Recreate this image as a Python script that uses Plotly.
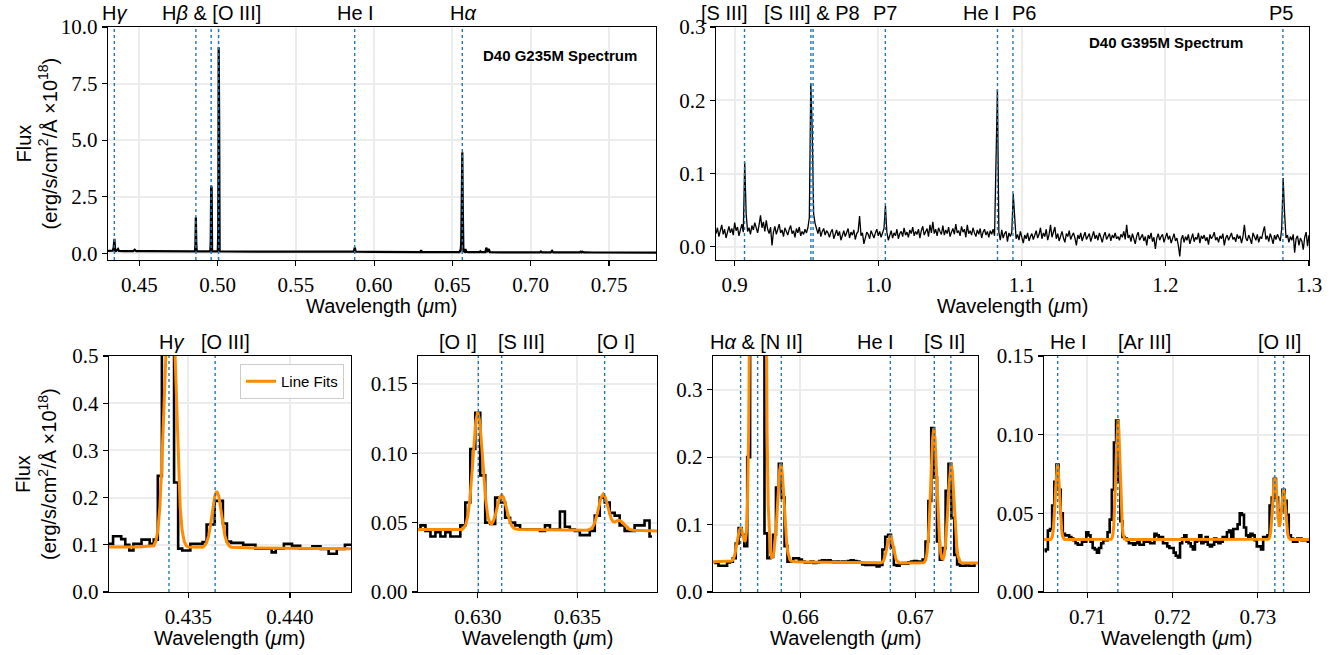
import numpy as np
import plotly.graph_objects as go

W, H = 1338, 655
OFF = 0

# ---------------- data ----------------
# G235M overview spectrum (top left), wavelength in micron, flux x1e18
g235_wl = [0.4300, 0.4320, 0.4330, 0.4336, 0.4341, 0.4346, 0.4352, 0.4364, 0.4370, 0.4400,
           0.4430, 0.4460, 0.4471, 0.4480, 0.4550, 0.4650, 0.4750, 0.4830, 0.4855, 0.4858,
           0.4861, 0.4864, 0.4867, 0.4900, 0.4953, 0.4956, 0.4959, 0.4962, 0.4965, 0.5001,
           0.5004, 0.5007, 0.5010, 0.5013, 0.5016, 0.5050, 0.5200, 0.5400, 0.5600, 0.5800,
           0.5870, 0.5876, 0.5882, 0.6000, 0.6200, 0.6295, 0.6300, 0.6305, 0.6400, 0.6500,
           0.6545, 0.6548, 0.6552, 0.6556, 0.6559, 0.6563, 0.6566, 0.6570, 0.6578, 0.6583,
           0.6588, 0.6600, 0.6650, 0.6672, 0.6678, 0.6684, 0.6700, 0.6710, 0.6716, 0.6724,
           0.6731, 0.6740, 0.6800, 0.6900, 0.7000, 0.7058, 0.7065, 0.7072, 0.7128, 0.7136,
           0.7144, 0.7200, 0.7312, 0.7320, 0.7325, 0.7330, 0.7340, 0.7400, 0.7500, 0.7600,
           0.7700, 0.7800]
g235_flux = [0.105, 0.100, 0.110, 0.250, 0.640, 0.090, 0.100, 0.190, 0.100, 0.095,
             0.090, 0.090, 0.150, 0.090, 0.088, 0.085, 0.082, 0.080, 0.080, 0.300,
             1.590, 0.400, 0.080, 0.078, 0.078, 0.500, 2.980, 2.900, 0.078, 0.080,
             0.900, 9.100, 5.950, 0.100, 0.077, 0.076, 0.074, 0.070, 0.068, 0.066,
             0.066, 0.250, 0.066, 0.060, 0.055, 0.050, 0.130, 0.050, 0.048, 0.046,
             0.046, 0.095, 0.075, 0.500, 2.750, 4.460, 1.950, 0.090, 0.060, 0.190,
             0.060, 0.045, 0.044, 0.044, 0.085, 0.044, 0.044, 0.044, 0.245, 0.050,
             0.190, 0.043, 0.040, 0.038, 0.035, 0.034, 0.080, 0.034, 0.034, 0.109,
             0.034, 0.033, 0.033, 0.072, 0.042, 0.065, 0.033, 0.032, 0.030, 0.030,
             0.028, 0.028]

# G395M spectrum (top right), regular sampling of 0.001 micron from 0.887
g395_start, g395_step = 0.887, 0.001
g395_flux = [
    0.018, 0.026, 0.014, 0.022, 0.030, 0.017, 0.024, 0.012, 0.021, 0.028,
    0.019, 0.025, 0.016, 0.033, 0.022, 0.027, 0.015, 0.024, 0.031, 0.020,
    0.115, 0.045, 0.021, 0.026, 0.017, 0.029, 0.023, 0.033, 0.025, 0.019,
    0.030, 0.043, 0.026, 0.034, 0.021, 0.036, 0.024, 0.018, 0.027, 0.002,
    0.020, 0.028, 0.017, 0.025, 0.031, 0.019, 0.023, 0.014, 0.026, 0.021,
    0.016, 0.024, 0.029, 0.018, 0.022, 0.013, 0.025, 0.019, 0.027, 0.015,
    0.021, 0.017, 0.024, 0.019, 0.026, 0.040, 0.223, 0.160, 0.045, 0.032,
    0.024, 0.018, 0.027, 0.014, 0.021, 0.025, 0.016, 0.022, 0.019, 0.013,
    0.020, 0.024, 0.011, 0.018, 0.023, 0.015, 0.021, 0.009, 0.017, 0.022,
    0.014, 0.019, 0.025, 0.012, 0.020, 0.016, 0.023, 0.010, 0.018, 0.021,
    0.042, 0.015, 0.019, 0.004, 0.013, 0.020, 0.017, 0.011, 0.022, 0.016,
    0.012, 0.019, 0.024, 0.015, 0.021, 0.013, 0.018, 0.025, 0.056, 0.020,
    0.009, 0.017, 0.022, 0.012, 0.019, 0.015, 0.024, 0.011, 0.018, 0.021,
    0.014, 0.026, 0.016, 0.020, 0.013, 0.023, 0.018, 0.027, 0.015, 0.021,
    0.017, 0.024, 0.012, 0.022, 0.028, 0.016, 0.020, 0.025, 0.014, 0.030,
    0.019, 0.034, 0.018, 0.024, 0.015, 0.026, 0.021, 0.017, 0.029, 0.016,
    0.023, 0.018, 0.027, 0.014, 0.020, 0.025, 0.017, 0.031, 0.019, 0.022,
    0.015, 0.028, 0.020, 0.024, 0.013, 0.030, 0.018, 0.022, 0.016, 0.026,
    0.019, 0.014, 0.023, 0.017, 0.025, 0.012, 0.020, 0.024, 0.016, 0.021,
    0.013, 0.022, 0.017, 0.024, 0.015, 0.095, 0.215, 0.020, 0.009, 0.023,
    0.012, 0.018, 0.021, 0.007, 0.019, 0.014, 0.020, 0.072, 0.038, 0.011,
    0.017, 0.009, 0.021, 0.013, 0.005, 0.016, 0.011, 0.019, 0.008, 0.014,
    0.018, 0.010, 0.015, 0.022, 0.012, 0.017, 0.026, 0.011, 0.019, 0.014,
    0.024, 0.009, 0.017, 0.030, 0.013, 0.020, 0.027, 0.011, 0.018, 0.008,
    0.016, 0.021, 0.012, 0.006, 0.018, 0.014, 0.022, 0.010, 0.015, 0.019,
    0.012, 0.002, 0.016, 0.011, 0.019, 0.008, 0.014, 0.020, 0.010, 0.015,
    0.018, 0.007, 0.013, 0.021, 0.011, 0.016, 0.009, 0.019, 0.013, 0.006,
    0.015, 0.020, 0.010, 0.014, 0.018, 0.008, 0.016, 0.012, 0.019, 0.011,
    0.014, 0.009, 0.017, 0.013, 0.021, 0.010, 0.030, 0.012, 0.016, 0.007,
    0.018, 0.011, 0.004, 0.015, 0.020, 0.009, 0.013, 0.017, 0.008, 0.014,
    0.002, 0.016, 0.011, 0.019, 0.007, 0.013, -0.003, 0.012, 0.018, 0.009,
    0.014, 0.017, 0.006, 0.012, 0.019, 0.010, 0.015, 0.005, 0.013, 0.018,
    0.008, 0.012, 0.002, -0.013, 0.010, 0.016, 0.006, 0.014, 0.009, 0.017,
    0.004, 0.012, 0.018, 0.007, 0.013, 0.010, 0.019, 0.005, 0.015, 0.011,
    0.016, 0.008, 0.013, 0.003, 0.017, 0.011, 0.014, 0.020, 0.009, 0.013,
    0.006, 0.015, 0.011, 0.018, 0.002, 0.012, 0.016, 0.009, 0.014, 0.019,
    0.010, 0.013, 0.007, 0.017, 0.011, 0.015, 0.005, 0.014, 0.030, 0.012,
    0.008, 0.016, 0.011, 0.004, 0.019, 0.013, 0.009, 0.017, 0.006, 0.014,
    0.011, 0.020, 0.028, 0.010, 0.015, 0.007, 0.018, 0.012, 0.004, 0.016,
    0.010, 0.017, 0.013, 0.008, 0.025, 0.094, 0.045, 0.012, 0.016, 0.006,
    0.014, 0.009, 0.017, -0.008, 0.011, 0.015, 0.002, 0.012, 0.008, -0.004,
    0.013, 0.020, 0.001, 0.016]

# zoom panels (G235M), regular sampling
p1_start, p1_step = 0.4310, 0.0002
p1_flux = [0.102, 0.102, 0.118, 0.118, 0.112, 0.100, 0.088, 0.102, 0.102, 0.111,
           0.111, 0.102, 0.111, 0.246, 0.520, 0.640, 0.560, 0.232, 0.092, 0.088,
           0.088, 0.102, 0.102, 0.102, 0.106, 0.143, 0.143, 0.193, 0.193, 0.145,
           0.107, 0.104, 0.104, 0.104, 0.100, 0.100, 0.100, 0.092, 0.092, 0.092,
           0.092, 0.084, 0.092, 0.092, 0.102, 0.102, 0.098, 0.098, 0.092, 0.092,
           0.092, 0.097, 0.097, 0.091, 0.091, 0.081, 0.081, 0.091, 0.091, 0.100,
           0.100]
p2_start, p2_step = 0.6270, 0.00025
p2_flux = [0.045, 0.048, 0.044, 0.040, 0.043, 0.040, 0.043, 0.040, 0.040, 0.048,
           0.0645, 0.103, 0.129, 0.084, 0.050, 0.049, 0.068, 0.0645, 0.0535, 0.050,
           0.048, 0.045, 0.045, 0.045, 0.045, 0.044, 0.048, 0.045, 0.045, 0.058,
           0.047, 0.045, 0.044, 0.041, 0.041, 0.044, 0.055, 0.068, 0.0645, 0.057,
           0.055, 0.048, 0.044, 0.044, 0.048, 0.048, 0.0515, 0.040]
p3_start, p3_step = 0.6525, 0.00025
p3_flux = [0.043, 0.043, 0.039, 0.039, 0.039, 0.044, 0.045, 0.050, 0.072, 0.095,
           0.085, 0.068, 0.200, 0.620, 2.500, 4.300, 3.600, 1.600, 0.087, 0.050,
           0.052, 0.085, 0.155, 0.190, 0.140, 0.068, 0.045, 0.045, 0.050, 0.050,
           0.048, 0.045, 0.044, 0.044, 0.045, 0.043, 0.044, 0.046, 0.047, 0.046,
           0.047, 0.045, 0.044, 0.045, 0.044, 0.045, 0.044, 0.046, 0.047, 0.046,
           0.045, 0.044, 0.041, 0.040, 0.041, 0.040, 0.041, 0.038, 0.040, 0.063,
           0.082, 0.085, 0.066, 0.040, 0.039, 0.042, 0.043, 0.042, 0.044, 0.045,
           0.046, 0.045, 0.044, 0.048, 0.075, 0.135, 0.243, 0.170, 0.075, 0.048,
           0.065, 0.150, 0.190, 0.110, 0.055, 0.041, 0.039, 0.039, 0.040, 0.039,
           0.039, 0.040]
p4_start, p4_step = 0.7050, 0.00025
p4_flux = [0.026, 0.027, 0.039, 0.040, 0.055, 0.070, 0.081, 0.065, 0.050, 0.037,
           0.036, 0.036, 0.035, 0.034, 0.033, 0.031, 0.030, 0.030, 0.032, 0.032,
           0.038, 0.036, 0.032, 0.028, 0.027, 0.025, 0.028, 0.031, 0.033, 0.033,
           0.038, 0.046, 0.065, 0.095, 0.109, 0.070, 0.045, 0.035, 0.034, 0.033,
           0.031, 0.031, 0.030, 0.031, 0.033, 0.030, 0.030, 0.032, 0.032, 0.032,
           0.031, 0.031, 0.037, 0.036, 0.035, 0.035, 0.031, 0.031, 0.029, 0.028,
           0.028, 0.025, 0.023, 0.022, 0.031, 0.034, 0.036, 0.032, 0.031, 0.029,
           0.027, 0.032, 0.033, 0.036, 0.031, 0.032, 0.035, 0.030, 0.029, 0.030,
           0.034, 0.032, 0.031, 0.032, 0.035, 0.035, 0.038, 0.039, 0.035, 0.040,
           0.040, 0.043, 0.050, 0.049, 0.041, 0.036, 0.035, 0.037, 0.036, 0.033,
           0.029, 0.029, 0.027, 0.035, 0.035, 0.036, 0.055, 0.060, 0.072, 0.060,
           0.047, 0.052, 0.065, 0.058, 0.049, 0.036, 0.034, 0.032, 0.032, 0.034,
           0.034, 0.033, 0.033, 0.033, 0.032]

# line-fit model curves
p1_fit_wl = [0.4310, 0.4325, 0.4333, 0.4334, 0.4335, 0.4336, 0.4337, 0.4338, 0.4339, 0.4340,
             0.4341, 0.4342, 0.4343, 0.4344, 0.4345, 0.4346, 0.4347, 0.4348, 0.4349, 0.4350,
             0.4357, 0.4358, 0.4359, 0.4360, 0.4361, 0.4362, 0.4363, 0.4364, 0.4365, 0.4366,
             0.4367, 0.4368, 0.4369, 0.4370, 0.4371, 0.4380, 0.4430]
p1_fit = [0.0955, 0.0953, 0.098, 0.107, 0.129, 0.179, 0.271, 0.406, 0.563, 0.694,
          0.745, 0.694, 0.563, 0.406, 0.271, 0.179, 0.129, 0.107, 0.098, 0.0952,
          0.0950, 0.098, 0.105, 0.119, 0.144, 0.175, 0.203, 0.214, 0.203, 0.175,
          0.144, 0.119, 0.105, 0.098, 0.095, 0.0935, 0.0915]
p2_fit_wl = [0.6270, 0.6292, 0.6293, 0.6294, 0.6295, 0.6296, 0.6297, 0.6298, 0.6299, 0.6300,
             0.6301, 0.6302, 0.6303, 0.6304, 0.6305, 0.6306, 0.6307, 0.6308, 0.6309, 0.6310,
             0.6311, 0.6312, 0.6313, 0.6314, 0.6315, 0.6316, 0.6317, 0.6318, 0.6319, 0.6321,
             0.6355, 0.6356, 0.6357, 0.6358, 0.6359, 0.6360, 0.6361, 0.6362, 0.6363, 0.6364,
             0.6365, 0.6366, 0.6367, 0.6368, 0.6369, 0.6370, 0.6371, 0.6372, 0.6373, 0.6374,
             0.6375, 0.6376, 0.6377, 0.6378, 0.6390]
p2_fit = [0.0450, 0.0450, 0.0462, 0.0487, 0.0547, 0.0663, 0.0839, 0.1051, 0.1229, 0.1300,
          0.1229, 0.1051, 0.0839, 0.0663, 0.0551, 0.0498, 0.0491, 0.0516, 0.0565, 0.0627,
          0.0679, 0.0700, 0.0679, 0.0627, 0.0565, 0.0513, 0.0479, 0.0461, 0.0454, 0.0450,
          0.0445, 0.0449, 0.0456, 0.0475, 0.0510, 0.0564, 0.0629, 0.0683, 0.0705, 0.0683,
          0.0632, 0.0572, 0.0528, 0.0507, 0.0505, 0.0513, 0.0516, 0.0509, 0.0494, 0.0477,
          0.0463, 0.0453, 0.0448, 0.0445, 0.0440]
# panels 3 and 4: continuum anchor points + finely sampled (0.0001 um) line segments
fit_step = 0.0001
p3_fit_anchor_wl = [0.6524, 0.6537, 0.6595, 0.6620, 0.6660, 0.6669, 0.6687, 0.6705, 0.6742, 0.6755]
p3_fit_anchor = [0.045, 0.045, 0.045, 0.0440, 0.0432, 0.0431, 0.0431, 0.0430, 0.0430, 0.0430]
p3_fit_segments = [
    (0.6538, [0.0451, 0.0453, 0.0458, 0.0472, 0.0501, 0.0552, 0.0630, 0.0732, 0.0838, 0.0919,
              0.0951, 0.0922, 0.0849, 0.0771, 0.0749, 0.0886, 0.1341, 0.2402, 0.4488, 0.802,
              1.343, 2.060, 2.879, 3.666, 4.234, 4.445, 4.234, 3.666, 2.879, 2.060,
              1.343, 0.802, 0.448, 0.238, 0.1291, 0.0786, 0.0577, 0.0514, 0.0525, 0.0599,
              0.0744, 0.0972, 0.1266, 0.1574, 0.181, 0.190, 0.181, 0.1574, 0.1266, 0.0972,
              0.0744, 0.0596, 0.0514, 0.0475, 0.0458, 0.0452, 0.0450]),
    (0.6670, [0.0434, 0.0441, 0.0459, 0.0494, 0.0555, 0.0641, 0.0735, 0.0811, 0.0840, 0.0811,
              0.0735, 0.0641, 0.0555, 0.0494, 0.0459, 0.0441, 0.0434]),
    (0.6706, [0.0431, 0.0435, 0.0448, 0.0483, 0.0569, 0.0744, 0.1042, 0.1458, 0.1918, 0.2288,
              0.2430, 0.2288, 0.1918, 0.1458, 0.1042, 0.0745, 0.0573, 0.0496, 0.0487, 0.0538,
              0.0663, 0.0883, 0.1191, 0.1531, 0.1805, 0.1910, 0.1805, 0.1531, 0.1191, 0.0883,
              0.0662, 0.0533, 0.0469, 0.0443, 0.0434, 0.0431]),
]
p4_fit_anchor_wl = [0.7049, 0.7057, 0.7074, 0.7127, 0.7145, 0.7311, 0.7339, 0.7361]
p4_fit_anchor = [0.0333, 0.0334, 0.0333, 0.0334, 0.0333, 0.0334, 0.0333, 0.0333]
p4_fit_segments = [
    (0.7058, [0.0340, 0.0354, 0.0388, 0.0453, 0.0553, 0.0672, 0.0773, 0.0813, 0.0773, 0.0672,
              0.0553, 0.0453, 0.0388, 0.0354, 0.0340, 0.0335]),
    (0.7128, [0.0336, 0.0344, 0.0366, 0.0420, 0.0522, 0.0681, 0.0870, 0.1030, 0.1093, 0.1030,
              0.0870, 0.0681, 0.0522, 0.0420, 0.0366, 0.0344, 0.0336]),
    (0.7312, [0.0335, 0.0339, 0.0351, 0.0379, 0.0433, 0.0516, 0.0616, 0.0700, 0.0733, 0.0700,
              0.0617, 0.0520, 0.0447, 0.0415, 0.0431, 0.0486, 0.0561, 0.0628, 0.0653, 0.0626,
              0.0559, 0.0480, 0.0413, 0.0369, 0.0347, 0.0337, 0.0334]),
]

# emission line positions (rest-frame micron) and top labels
tl_lines = [0.43405, 0.48613, 0.49589, 0.50068, 0.58756, 0.65628]
tl_labels = ["H<i>γ</i>", "H<i>β</i> & [O III]", "He I", "H<i>α</i>"]
tl_label_wl = [0.4341, 0.4958, 0.5878, 0.6567]
tr_lines = [0.90686, 0.95311, 0.95463, 1.00494, 1.08303, 1.09381, 1.28181]
tr_labels = ["[S III]", "[S III] & P8", "P7", "He I", "P6", "P5"]
tr_label_wl = [0.8932, 0.9536, 1.0049, 1.0718, 1.1018, 1.2804]
p1_lines = [0.43405, 0.43632]
p1_labels = ["H<i>γ</i>", "[O III]"]
p1_label_wl = [0.43415, 0.43685]
p2_lines = [0.63003, 0.63120, 0.63637]
p2_labels = ["[O I]", "[S III]", "[O I]"]
p2_label_wl = [0.6290, 0.6322, 0.63695]
p3_lines = [0.65480, 0.65628, 0.65834, 0.66782, 0.67164, 0.67308]
p3_labels = ["H<i>α</i> & [N II]", "He I", "[S II]"]
p3_label_wl = [0.65618, 0.66653, 0.67257]
p4_lines = [0.70652, 0.71358, 0.73199, 0.73302]
p4_labels = ["He I", "[Ar III]", "[O II]"]
p4_label_wl = [0.70774, 0.71672, 0.73250]

# ---------------- helpers ----------------
def grid(start, step, n):
    return start + step * np.arange(n)

def build_fit(anchor_wl, anchor_val, segments):
    xs = list(anchor_wl)
    ys = list(anchor_val)
    for s0, vals in segments:
        xs += list(grid(s0, fit_step, len(vals)))
        ys += list(vals)
    order = np.argsort(xs)
    return np.array(xs)[order], np.array(ys)[order]

def fx(px):
    return (px - OFF) / W

def fy(py):
    return (H - (py - OFF)) / H

SANS = "Liberation Sans"
SERIF = "Liberation Serif"
BLACK = "black"
ORANGE = "#ff8c00"
BLUE = "#1f77b4"

fig = go.Figure()

# panel geometry in target pixels: (left, right, top, bottom)
panels = [
    dict(px=(108, 656, 27, 260), xr=[0.43, 0.78], yr=[-0.3, 10.0],
         xt=[0.45, 0.50, 0.55, 0.60, 0.65, 0.70, 0.75], yt=[0, 2.5, 5.0, 7.5, 10.0], xf=".2f", yf=".1f",
         lines=tl_lines, labels=tl_labels, label_wl=tl_label_wl),
    dict(px=(716, 1309, 27, 260), xr=[0.887, 1.3], yr=[-0.018, 0.3],
         xt=[0.9, 1.0, 1.1, 1.2, 1.3], yt=[0.0, 0.1, 0.2, 0.3], xf=".1f", yf=".1f",
         lines=tr_lines, labels=tr_labels, label_wl=tr_label_wl),
    dict(px=(109, 351, 356, 592), xr=[0.4311, 0.4430], yr=[0, 0.5],
         xt=[0.435, 0.440], yt=[0, 0.1, 0.2, 0.3, 0.4, 0.5], xf=".3f", yf=".1f",
         lines=p1_lines, labels=p1_labels, label_wl=p1_label_wl),
    dict(px=(418, 657, 356, 592), xr=[0.6270, 0.6390], yr=[0, 0.17],
         xt=[0.630, 0.635], yt=[0, 0.05, 0.10, 0.15], xf=".3f", yf=".2f",
         lines=p2_lines, labels=p2_labels, label_wl=p2_label_wl),
    dict(px=(713, 978, 356, 592), xr=[0.6524, 0.67544], yr=[0, 0.35],
         xt=[0.66, 0.67], yt=[0, 0.1, 0.2, 0.3], xf=".2f", yf=".1f",
         lines=p3_lines, labels=p3_labels, label_wl=p3_label_wl),
    dict(px=(1044, 1309, 356, 592), xr=[0.70492, 0.7360], yr=[0, 0.15],
         xt=[0.71, 0.72, 0.73], yt=[0, 0.05, 0.10, 0.15], xf=".2f", yf=".2f",
         lines=p4_lines, labels=p4_labels, label_wl=p4_label_wl),
]

layout = dict(template="none", width=W, height=H, margin=dict(l=0, r=0, t=0, b=0, pad=0),
              autosize=False, plot_bgcolor="white", paper_bgcolor="white",
              shapes=[], annotations=[])

for i, p in enumerate(panels, start=1):
    l, r, t, b = p["px"]
    sfx = "" if i == 1 else str(i)
    ax_common = dict(showline=True, linecolor="black", linewidth=1.3, mirror=True,
                     ticks="outside", ticklen=5, tickwidth=1.2, tickcolor="black",
                     showgrid=True, gridcolor="#ececec", gridwidth=2, zeroline=False,
                     automargin=False,
                     tickfont=dict(family=SERIF, size=21, color="black"))
    layout["xaxis" + sfx] = dict(ax_common, domain=[fx(l), fx(r)], range=p["xr"],
                                 tickvals=p["xt"], tickformat=p["xf"], anchor="y" + sfx)
    layout["yaxis" + sfx] = dict(ax_common, domain=[fy(b), fy(t)], range=p["yr"],
                                 tickvals=p["yt"], tickformat=p["yf"], anchor="x" + sfx)
    for wl in p["lines"]:
        layout["shapes"].append(dict(type="line", xref="x" + sfx, yref="y" + sfx + " domain",
                                     x0=wl, x1=wl, y0=0, y1=1, layer="above",
                                     line=dict(color=BLUE, width=1.4, dash="dot")))
    for txt, wl in zip(p["labels"], p["label_wl"]):
        layout["annotations"].append(dict(text=txt, xref="x" + sfx, yref="paper", x=wl,
                                          y=fy(t), yanchor="bottom", xanchor="center",
                                          yshift=1, showarrow=False,
                                          font=dict(family=SANS, size=20, color="black")))
    # x axis title
    layout["annotations"].append(dict(text="Wavelength (<i>μ</i>m)", xref="paper", yref="paper",
                                      x=fx((l + r) / 2), y=fy(b + 46),
                                      xanchor="center", yanchor="middle", showarrow=False,
                                      font=dict(family=SANS, size=20, color="black")))

# y axis titles
for yc in [(27 + 260) / 2, (356 + 592) / 2]:
    layout["annotations"].append(dict(text="Flux<br>(erg/s/cm<sup>2</sup>/Å ×10<sup>18</sup>)",
                                      xref="paper", yref="paper", x=fx(36), y=fy(yc),
                                      xanchor="center", yanchor="middle", textangle=-90,
                                      showarrow=False,
                                      font=dict(family=SANS, size=20, color="black")))

# spectrum titles
layout["annotations"].append(dict(text="<b>D40 G235M Spectrum</b>", xref="paper", yref="paper",
                                  x=fx(560), y=fy(55), xanchor="center", yanchor="middle",
                                  showarrow=False, font=dict(family=SANS, size=15, color="black")))
layout["annotations"].append(dict(text="<b>D40 G395M Spectrum</b>", xref="paper", yref="paper",
                                  x=fx(1166), y=fy(42), xanchor="center", yanchor="middle",
                                  showarrow=False, font=dict(family=SANS, size=15, color="black")))

layout["legend"] = dict(x=fx(344), y=fy(364), xanchor="right", yanchor="top",
                        bordercolor="#cccccc", borderwidth=1, bgcolor="rgba(255,255,255,0.9)",
                        font=dict(family=SANS, size=15, color="black"))
layout["showlegend"] = True

# ---- traces ----
fig.add_trace(go.Scatter(x=g235_wl, y=g235_flux, mode="lines", xaxis="x", yaxis="y",
                         line=dict(color=BLACK, width=2.2), showlegend=False))
fig.add_trace(go.Scatter(x=grid(g395_start, g395_step, len(g395_flux)), y=g395_flux,
                         mode="lines", xaxis="x2", yaxis="y2",
                         line=dict(color=BLACK, width=1.3), showlegend=False))

zoom_data = [
    (3, p1_start, p1_step, p1_flux, np.array(p1_fit_wl), np.array(p1_fit)),
    (4, p2_start, p2_step, p2_flux, np.array(p2_fit_wl), np.array(p2_fit)),
    (5, p3_start, p3_step, p3_flux) + build_fit(p3_fit_anchor_wl, p3_fit_anchor, p3_fit_segments),
    (6, p4_start, p4_step, p4_flux) + build_fit(p4_fit_anchor_wl, p4_fit_anchor, p4_fit_segments),
]
for i, s0, st, fl, xs, ys in zoom_data:
    fig.add_trace(go.Scatter(x=grid(s0, st, len(fl)), y=fl, mode="lines",
                             xaxis=f"x{i}", yaxis=f"y{i}", line=dict(color=BLACK, width=2.6, shape="hvh"),
                             showlegend=False))
    fig.add_trace(go.Scatter(x=xs, y=ys, mode="lines", xaxis=f"x{i}", yaxis=f"y{i}",
                             line=dict(color=ORANGE, width=3), name="Line Fits",
                             showlegend=(i == 3)))

fig.update_layout(**layout)
# remove the browser's default 8px page margin so the 1338x655 figure fills the window exactly
fig.write_html("out.html", config={"displayModeBar": False, "staticPlot": True},
               post_script="document.body.style.margin='0px';")
